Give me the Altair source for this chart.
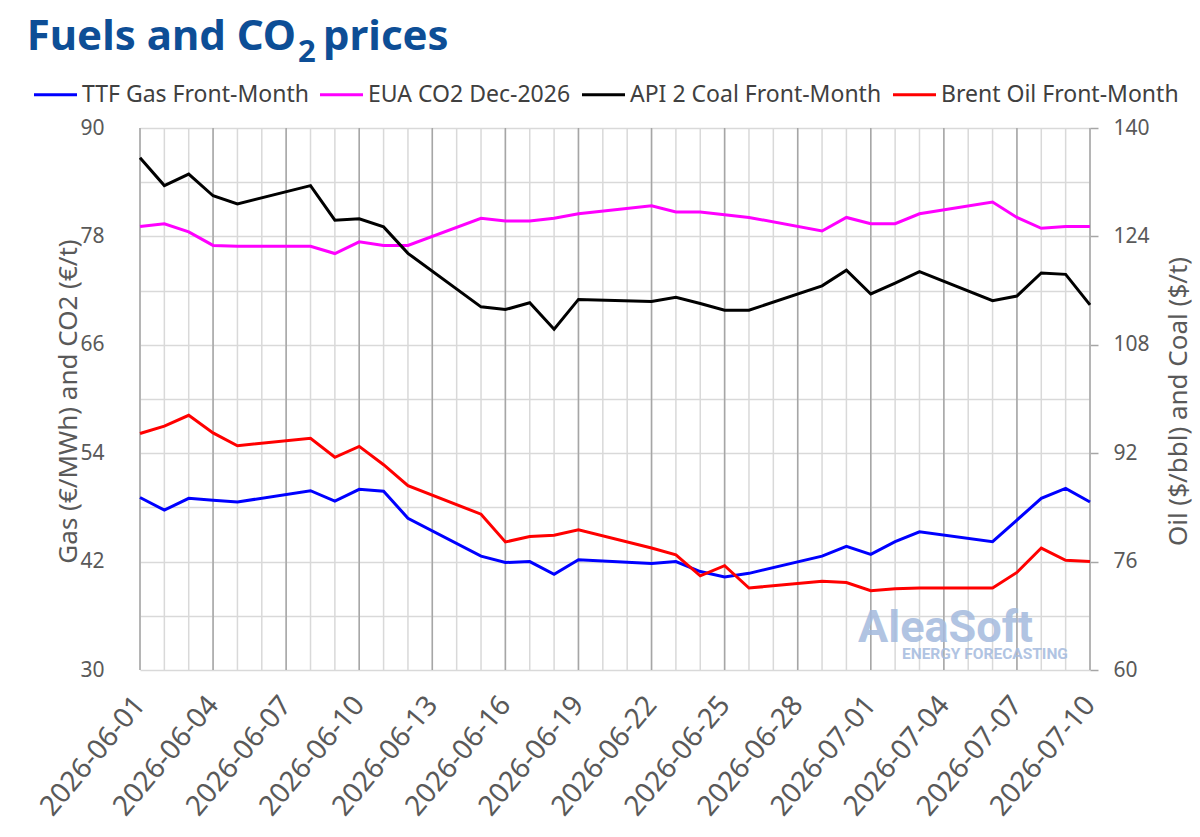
import altair as alt
import pandas as pd

# Trading days (weekdays) with settlement prices
dates = [
    "2026-06-01", "2026-06-02", "2026-06-03", "2026-06-04", "2026-06-05",
    "2026-06-08", "2026-06-09", "2026-06-10", "2026-06-11", "2026-06-12",
    "2026-06-15", "2026-06-16", "2026-06-17", "2026-06-18", "2026-06-19",
    "2026-06-22", "2026-06-23", "2026-06-24", "2026-06-25", "2026-06-26",
    "2026-06-29", "2026-06-30", "2026-07-01", "2026-07-02", "2026-07-03",
    "2026-07-06", "2026-07-07", "2026-07-08", "2026-07-09", "2026-07-10",
]

# Left axis series (EUR)
ttf_gas = [49.1, 47.7, 49.0, 48.8, 48.6,
           49.85, 48.7, 50.0, 49.8, 46.8,
           42.6, 41.9, 42.0, 40.6, 42.2,
           41.8, 42.0, 40.9, 40.3, 40.7,
           42.6, 43.7, 42.8, 44.2, 45.3,
           44.2, 46.6, 49.0, 50.1, 48.6]
eua_co2 = [79.1, 79.4, 78.5, 77.0, 76.9,
           76.9, 76.1, 77.4, 77.0, 77.0,
           80.0, 79.7, 79.7, 80.0, 80.5,
           81.4, 80.7, 80.7, 80.4, 80.1,
           78.6, 80.1, 79.4, 79.4, 80.5,
           81.8, 80.1, 78.9, 79.1, 79.1]

# Right axis series (USD)
api2_coal = [135.6, 131.5, 133.2, 130.0, 128.8,
             131.5, 126.4, 126.6, 125.4, 121.5,
             113.6, 113.2, 114.2, 110.3, 114.7,
             114.4, 115.0, 114.1, 113.1, 113.1,
             116.7, 119.0, 115.5, 117.1, 118.8,
             114.5, 115.2, 118.6, 118.4, 113.9]
brent_oil = [94.9, 96.0, 97.6, 95.0, 93.1,
             94.2, 91.4, 93.0, 90.3, 87.2,
             83.0, 78.9, 79.7, 79.9, 80.7,
             78.0, 77.0, 73.9, 75.4, 72.1,
             73.1, 72.9, 71.7, 72.0, 72.1,
             72.1, 74.4, 78.0, 76.2, 76.0]

series_names = ["TTF Gas Front-Month", "EUA CO2 Dec-2026",
                "API 2 Coal Front-Month", "Brent Oil Front-Month"]
series_colors = ["#0000FF", "#FF00FF", "#000000", "#FF0000"]

left_ticks = list(range(30, 91, 6))
right_ticks = list(range(60, 141, 16))

W, H = 950, 542
FONT = "Noto Sans"
GREY = "#595959"

all_days = pd.date_range("2026-06-01", "2026-07-10", freq="D")
day_str = [d.strftime("%Y-%m-%d") for d in all_days]
major_days = day_str[::3]

left_df = pd.DataFrame({
    "date": dates * 2,
    "value": ttf_gas + eua_co2,
    "series": [series_names[0]] * len(dates) + [series_names[1]] * len(dates),
})
right_df = pd.DataFrame({
    "date": dates * 2,
    "value": api2_coal + brent_oil,
    "series": [series_names[2]] * len(dates) + [series_names[3]] * len(dates),
})

x_scale = alt.Scale(
    type="utc",
    domain=[alt.DateTime(year=2026, month=6, date=1, utc=True),
            alt.DateTime(year=2026, month=7, date=10, utc=True)],
    nice=False,
)
x_axis = alt.Axis(
    values=[alt.DateTime(year=d.year, month=d.month, date=d.day, utc=True)
            for d in all_days[::3]],
    format="%Y-%m-%d", title=None, grid=False, domain=False,
    ticks=False, labelAngle=310, labelAlign="right",
    labelBaseline="middle", labelPadding=30, labelOffset=0,
    labelFont=FONT, labelFontSize=28, labelColor=GREY,
    labelOverlap=False, labelBound=False, labelFlush=False,
)
x_enc = alt.X("date:T", scale=x_scale, axis=x_axis)

color_scale = alt.Scale(domain=series_names, range=series_colors)
legend = alt.Legend(
    title=None, orient="none", legendX=-108, legendY=-57,
    direction="horizontal", columns=4, symbolType="stroke",
    symbolSize=1850, symbolStrokeWidth=3,
    labelFont=FONT, labelFontSize=23, labelColor="#404040",
    labelOffset=3, columnPadding=4, labelLimit=400, padding=0,
)

# daily vertical gridlines, darker every third day
minor_grid = alt.Chart(pd.DataFrame({"date": day_str})).mark_rule(
    color="#d9d9d9", strokeWidth=1.5
).encode(x=x_enc)

major_grid = alt.Chart(pd.DataFrame({"date": major_days})).mark_rule(
    color="#a6a6a6", strokeWidth=1.5
).encode(x=x_enc)

left_lines = alt.Chart(left_df).mark_line(strokeWidth=3).encode(
    x=x_enc,
    y=alt.Y(
        "value:Q",
        scale=alt.Scale(domain=[30, 90], nice=False, zero=False),
        axis=alt.Axis(
            orient="left", values=left_ticks,
            labelExpr="datum.value % 12 == 6 ? datum.label : ''",
            grid=True, gridColor="#d9d9d9", gridWidth=1.5,
            domain=False, ticks=False, tickSize=0, labelPadding=36,
            labelFont=FONT, labelFontSize=21, labelColor=GREY,
            title="Gas (€/MWh) and CO2 (€/t)", titleFont=FONT,
            titleFontSize=26, titleFontWeight="normal", titleColor=GREY,
            titleAngle=270, titleX=-72, titleY=273,
            titleAlign="center", titleBaseline="middle",
        ),
    ),
    color=alt.Color("series:N", scale=color_scale, legend=legend),
)

right_lines = alt.Chart(right_df).mark_line(strokeWidth=3).encode(
    x=x_enc,
    y=alt.Y(
        "value:Q",
        scale=alt.Scale(domain=[60, 140], nice=False, zero=False),
        axis=alt.Axis(
            orient="right", values=right_ticks, grid=False, domain=False,
            ticks=True, tickSize=8, tickColor="#a6a6a6", tickWidth=1.5,
            labelPadding=15, labelFont=FONT, labelFontSize=21,
            labelColor=GREY,
            title="Oil ($/bbl) and Coal ($/t)", titleFont=FONT,
            titleFontSize=26, titleFontWeight="normal", titleColor=GREY,
            titleAngle=270, titleX=88, titleY=273,
            titleAlign="center", titleBaseline="middle",
        ),
    ),
    color=alt.Color("series:N", scale=color_scale, legend=legend),
)


def label(text, x, y, size, color, font=FONT, weight="bold", align="left",
          opacity=1.0):
    return alt.Chart(pd.DataFrame({"t": [text]})).mark_text(
        font=font, fontSize=size, fontWeight=weight, color=color,
        align=align, baseline="alphabetic", opacity=opacity,
    ).encode(x=alt.value(x), y=alt.value(y), text="t:N")


TITLE_BLUE = "#0D4E96"
title_main = label("Fuels and CO", 156, -78, 42, TITLE_BLUE, align="right")
title_sub = label("2", 158, -66, 31, TITLE_BLUE)
title_end = label("prices", 183, -78, 42, TITLE_BLUE)

LOGO = "#a4bade"
logo_name = label("AleaSoft", 718, 514, 45, LOGO, font="Roboto", opacity=0.85)
logo_tag = label("ENERGY FORECASTING", 762, 531, 15.5, LOGO, font="Roboto",
                 opacity=0.85)

chart = alt.layer(
    minor_grid, major_grid, left_lines, right_lines,
    logo_name, logo_tag, title_main, title_sub, title_end,
).resolve_scale(
    y="independent"
).properties(
    width=W, height=H,
    autosize=alt.AutoSizeParams(type="none"),
    padding={"left": 140, "top": 128, "right": 110, "bottom": 167},
    background="white",
).configure_view(strokeWidth=0)

chart.save("out.html", embed_options={"renderer": "svg", "actions": False})
